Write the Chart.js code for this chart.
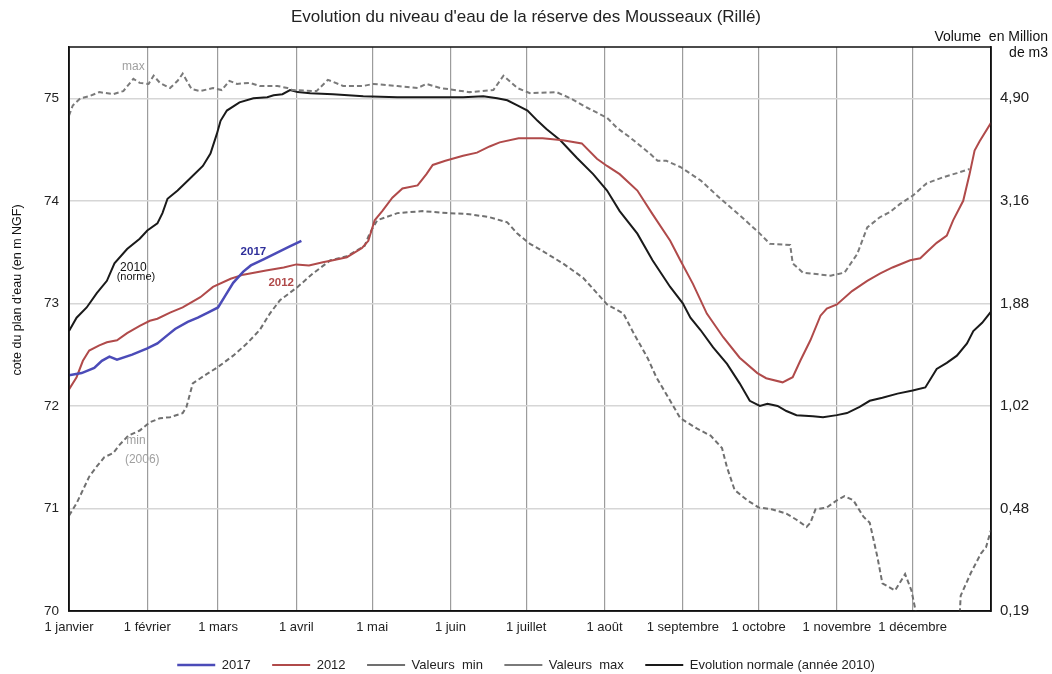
<!DOCTYPE html>
<html lang="fr">
<head>
<meta charset="utf-8">
<title>Evolution du niveau d'eau - réserve des Mousseaux</title>
<script src="https://cdn.jsdelivr.net/npm/chart.js@4.4.1/dist/chart.umd.min.js"></script>
<style>
    html, body { margin: 0; padding: 0; background: #fff; }
</style>
</head>
<body>
<canvas id="chart-niveau" width="1052" height="674"></canvas>
<script>
(function () {
    'use strict';

    // Axe X : jour de l'année (0 = 1 janvier)
    var monthDays = [0, 31, 59, 90, 120, 151, 181, 212, 243, 273, 304, 334];
    var monthLabels = ['1 janvier', '1 février', '1 mars', '1 avril', '1 mai', '1 juin',
        '1 juillet', '1 août', '1 septembre', '1 octobre', '1 novembre', '1 décembre'];

    // Axe Y : cote (m NGF) et volume correspondant (Mm3)
    var levelTicks = [70, 71, 72, 73, 74, 75];
    var volumeLabels = ['0,19', '0,48', '1,02', '1,88', '3,16', '4,90'];

    // 2017
    var days2017 = [0, 5, 10, 13, 16, 19, 25, 31, 35, 39, 42, 47, 51, 55, 59, 62, 65, 69, 72, 77, 82, 87, 92];
    var level2017 = [72.30, 72.32, 72.37, 72.44, 72.48, 72.45, 72.50, 72.56, 72.61, 72.69, 72.75, 72.82,
        72.86, 72.91, 72.96, 73.08, 73.20, 73.31, 73.37, 73.43, 73.49, 73.55, 73.61];

    // 2012
    var days2012 = [0, 3, 5.5, 8, 12, 15, 19, 23, 28, 32, 35, 40, 45, 52, 57, 64, 69, 78, 85, 90, 95,
        100.5, 104.5, 110, 116, 118.5, 121, 124, 128, 132, 138, 141.5, 144, 149, 156, 161.5, 166.5,
        170.5, 178, 187.5, 195.5, 203, 209, 213, 218, 225, 231, 238, 242, 247, 252.5, 259, 265.5,
        272.5, 276, 282.5, 286.5, 289.5, 293.5, 297.5, 300, 304, 310, 316, 321, 326, 333, 337, 340,
        343.5, 347.5, 350, 354, 356.5, 358.5, 360.5, 365];
    var level2012 = [72.16, 72.28, 72.44, 72.54, 72.59, 72.62, 72.64, 72.71, 72.78, 72.83, 72.85, 72.91,
        72.96, 73.06, 73.16, 73.24, 73.28, 73.32, 73.35, 73.38, 73.37, 73.40, 73.42, 73.45, 73.54,
        73.61, 73.81, 73.90, 74.03, 74.12, 74.15, 74.26, 74.35, 74.39, 74.44, 74.47, 74.53, 74.57,
        74.61, 74.61, 74.59, 74.56, 74.41, 74.34, 74.26, 74.10, 73.87, 73.61, 73.42, 73.19, 72.90,
        72.67, 72.47, 72.32, 72.27, 72.23, 72.28, 72.44, 72.64, 72.88, 72.95, 72.99, 73.12, 73.22,
        73.29, 73.35, 73.42, 73.44, 73.51, 73.59, 73.66, 73.81, 74.00, 74.26, 74.49, 74.58, 74.76];

    // Evolution normale (2010)
    var daysNorme = [0, 3, 7, 11, 15, 18, 23, 28, 31, 35, 37, 39, 43, 48, 53, 56, 58.5, 60, 62.5,
        67.5, 73, 78.5, 81, 84.5, 87.5, 90.5, 95.5, 104.5, 116.5, 130, 143, 156, 164, 169.5, 173.5,
        177.5, 181.5, 185.5, 189, 194.5, 201, 207.5, 213, 218, 225, 231, 238, 243, 246, 250, 255,
        260.5, 265.5, 269.5, 273.5, 276.5, 280.5, 284, 288, 294.5, 298.5, 304, 308, 313, 317, 322,
        328, 334, 339, 343.5, 347.5, 351.5, 355.5, 358, 361.5, 365];
    var levelNorme = [72.73, 72.86, 72.96, 73.10, 73.22, 73.39, 73.53, 73.63, 73.71, 73.78, 73.88,
        74.02, 74.10, 74.22, 74.34, 74.46, 74.65, 74.78, 74.88, 74.96, 75.00, 75.01, 75.03, 75.04,
        75.08, 75.06, 75.05, 75.04, 75.02, 75.01, 75.01, 75.01, 75.02, 75.00, 74.98, 74.93, 74.88,
        74.78, 74.70, 74.59, 74.42, 74.26, 74.10, 73.90, 73.68, 73.42, 73.16, 73.00, 72.86, 72.74,
        72.57, 72.41, 72.22, 72.05, 72.00, 72.02, 72.00, 71.95, 71.91, 71.90, 71.89, 71.91, 71.93,
        71.99, 72.05, 72.08, 72.12, 72.15, 72.18, 72.36, 72.42, 72.49, 72.61, 72.73, 72.81, 72.92];

    // Valeurs min (2006)
    var daysMin = [0, 3, 5.5, 8, 11, 14, 17.5, 20, 23.5, 28, 32, 36, 40, 45, 46.5, 49, 54.5, 59, 65,
        70.5, 75.5, 79.5, 83.5, 90.5, 96.5, 103.5, 110, 117, 119, 122, 130, 140, 150, 158.5, 166.5,
        173.5, 177.5, 182.5, 187.5, 195.5, 203.5, 209, 213, 219.5, 223.5, 229, 232.5, 238, 242,
        248.5, 254, 258.5, 260.5, 263.5, 268.5, 273, 278.5, 284, 288, 292, 293.5, 295.5, 300, 304,
        307, 310.5, 314.5, 317, 320, 322, 327, 331, 333.5, 336, 337, 352, 352.5, 353, 357, 361, 363, 365];
    var levelMin = [70.93, 71.05, 71.18, 71.31, 71.41, 71.50, 71.54, 71.62, 71.71, 71.76, 71.84, 71.88,
        71.89, 71.93, 71.99, 72.22, 72.31, 72.38, 72.49, 72.61, 72.74, 72.90, 73.03, 73.16, 73.29,
        73.42, 73.46, 73.56, 73.68, 73.81, 73.88, 73.90, 73.88, 73.87, 73.84, 73.79, 73.68, 73.58,
        73.51, 73.39, 73.25, 73.10, 72.99, 72.90, 72.71, 72.47, 72.28, 72.05, 71.88, 71.78, 71.71,
        71.59, 71.40, 71.18, 71.08, 71.01, 70.99, 70.95, 70.89, 70.82, 70.86, 70.99, 71.01, 71.08,
        71.12, 71.08, 70.92, 70.86, 70.53, 70.27, 70.20, 70.36, 70.20, 69.90, null, null, 69.90,
        70.15, 70.37, 70.56, 70.62, 70.79];

    // Valeurs max
    var daysMax = [0, 1.5, 4.5, 8, 12, 17.5, 21.5, 25.5, 28, 31.5, 33.5, 36, 40, 43, 45, 48.5, 52, 57,
        60.5, 63.5, 66.5, 71.5, 75.5, 82.5, 86.5, 88.5, 98, 102.5, 108.5, 116.5, 120.5, 130, 138,
        141.5, 147, 158.5, 168, 172, 177.5, 182.5, 193, 198.5, 205, 213, 217, 222, 230, 233, 236.5,
        242, 250, 257.5, 265.5, 273.5, 277.5, 285.5, 286.5, 290.5, 301.5, 307, 312, 316, 321, 325,
        329, 334, 339.5, 346, 351.5, 356.5];
    var levelMax = [74.83, 74.93, 75.00, 75.02, 75.06, 75.04, 75.07, 75.19, 75.15, 75.14, 75.22, 75.15,
        75.10, 75.17, 75.24, 75.09, 75.07, 75.10, 75.08, 75.17, 75.14, 75.15, 75.12, 75.12, 75.10,
        75.08, 75.07, 75.18, 75.12, 75.12, 75.14, 75.12, 75.10, 75.14, 75.10, 75.06, 75.08, 75.22,
        75.10, 75.05, 75.06, 75.00, 74.91, 74.81, 74.71, 74.62, 74.46, 74.39, 74.39, 74.33, 74.20,
        74.03, 73.86, 73.68, 73.58, 73.57, 73.39, 73.30, 73.27, 73.30, 73.48, 73.74, 73.84, 73.89,
        73.97, 74.05, 74.17, 74.23, 74.27, 74.31];

    // Etiquettes posées sur le graphique (jour, cote)
    var notes = [
        { text: 'max', day: 25.5, level: 75.31, color: '#a0a0a0', weight: 'normal', size: 12 },
        { text: '2010', day: 25.5, level: 73.35, color: '#111111', weight: 'normal', size: 12 },
        { text: '(norme)', day: 26.5, level: 73.26, color: '#111111', weight: 'normal', size: 11 },
        { text: '2017', day: 73, level: 73.50, color: '#2e2e9a', weight: 'bold', size: 11.5 },
        { text: '2012', day: 84, level: 73.20, color: '#b04a4a', weight: 'bold', size: 11.5 },
        { text: 'min', day: 26.5, level: 71.66, color: '#a0a0a0', weight: 'normal', size: 12 },
        { text: '(2006)', day: 29, level: 71.48, color: '#a0a0a0', weight: 'normal', size: 12 }
    ];

    function toPoints(xs, ys) {
        return xs.map(function (d, i) { return { x: d, y: ys[i] }; });
    }

    var FONT = "'Liberation Sans', Arial, sans-serif";

    var frameAndText = {
        id: 'frameAndText',
        afterDraw: function (chart) {
            var ctx = chart.ctx;
            var area = chart.chartArea;
            var xs = chart.scales.x;
            var ys = chart.scales.y;

            ctx.save();
            // cadre du graphique
            ctx.strokeStyle = '#111';
            ctx.lineWidth = 1.5;
            ctx.strokeRect(area.left, area.top, area.right - area.left, area.bottom - area.top);

            // titre de l'axe Y gauche
            ctx.fillStyle = '#111';
            ctx.font = '12.5px ' + FONT;
            ctx.textAlign = 'center';
            ctx.textBaseline = 'middle';
            ctx.translate(18, 290);
            ctx.rotate(-Math.PI / 2);
            ctx.fillText("cote du plan d'eau (en m NGF)", 0, 0);
            ctx.restore();

            // en-tête de l'axe droit
            ctx.save();
            ctx.fillStyle = '#111';
            ctx.font = '14px ' + FONT;
            ctx.textAlign = 'right';
            ctx.textBaseline = 'middle';
            ctx.fillText('Volume  en Million', 1048, 37);
            ctx.fillText('de m3', 1048, 53);

            // étiquettes des courbes
            ctx.textAlign = 'center';
            notes.forEach(function (n) {
                ctx.font = n.weight + ' ' + n.size + 'px ' + FONT;
                ctx.fillStyle = n.color;
                ctx.fillText(n.text, xs.getPixelForValue(n.day), ys.getPixelForValue(n.level));
            });
            ctx.restore();
        }
    };

    var dashed = [5, 3];

    new Chart(document.getElementById('chart-niveau'), {
        type: 'line',
        data: {
            datasets: [{
                label: '2017',
                data: toPoints(days2017, level2017),
                borderColor: '#4b4bb8',
                borderWidth: 2.5,
            }, {
                label: '2012',
                data: toPoints(days2012, level2012),
                borderColor: '#b04a4a',
                borderWidth: 2,
            }, {
                label: 'Valeurs  min',
                data: toPoints(daysMin, levelMin),
                borderColor: '#707070',
                borderWidth: 2,
                borderDash: dashed,
            }, {
                label: 'Valeurs  max',
                data: toPoints(daysMax, levelMax),
                borderColor: '#7a7a7a',
                borderWidth: 2,
                borderDash: dashed,
            }, {
                label: 'Evolution normale (année 2010)',
                data: toPoints(daysNorme, levelNorme),
                borderColor: '#1a1a1a',
                borderWidth: 2,
            }],
        },
        options: {
            responsive: false,
            animation: false,
            parsing: false,
            spanGaps: false,
            elements: {
                point: { radius: 0 },
                line: { tension: 0, fill: false },
            },
            layout: { padding: 0 },
            plugins: {
                title: {
                    display: true,
                    text: "Evolution du niveau d'eau de la réserve des Mousseaux (Rillé)",
                    color: '#222',
                    font: { family: FONT, size: 17, weight: 'normal' },
                    padding: { top: 7, bottom: 19.6 },
                },
                legend: {
                    position: 'bottom',
                    maxHeight: 37,
                    labels: {
                        usePointStyle: true,
                        pointStyle: 'line',
                        pointStyleWidth: 38,
                        padding: 21.5,
                        color: '#222',
                        font: { family: FONT, size: 13 },
                    },
                },
                tooltip: { enabled: false },
            },
            scales: {
                x: {
                    type: 'linear',
                    min: 0,
                    max: 365,
                    afterBuildTicks: function (scale) {
                        scale.ticks = monthDays.map(function (d) { return { value: d }; });
                    },
                    afterFit: function (scale) { scale.height = 26; },
                    ticks: {
                        autoSkip: false,
                        maxRotation: 0,
                        padding: 9,
                        color: '#222',
                        font: { family: FONT, size: 13 },
                        callback: function (value, index) { return monthLabels[index]; },
                    },
                    grid: { color: '#9c9c9c', lineWidth: 1.2, drawTicks: false },
                    border: { color: '#111', width: 1.5 },
                },
                y: {
                    type: 'linear',
                    position: 'left',
                    min: 70,
                    max: 75.5,
                    afterBuildTicks: function (scale) {
                        scale.ticks = levelTicks.map(function (v) { return { value: v }; });
                    },
                    afterFit: function (scale) { scale.width = 69; },
                    ticks: {
                        padding: 10,
                        color: '#222',
                        font: { family: FONT, size: 13.5 },
                    },
                    grid: { color: '#d6d6d6', lineWidth: 1.5, drawTicks: false },
                    border: { color: '#111', width: 1.5 },
                },
                y2: {
                    type: 'linear',
                    position: 'right',
                    min: 70,
                    max: 75.5,
                    afterBuildTicks: function (scale) {
                        scale.ticks = levelTicks.map(function (v) { return { value: v }; });
                    },
                    afterFit: function (scale) { scale.width = 61; },
                    ticks: {
                        padding: 9,
                        color: '#222',
                        font: { family: FONT, size: 15 },
                        callback: function (value, index) { return volumeLabels[index]; },
                    },
                    grid: { display: false, drawTicks: false },
                    border: { color: '#111', width: 1.5 },
                },
            },
        },
        plugins: [frameAndText],
    });
})();
</script>
</body>
</html>
